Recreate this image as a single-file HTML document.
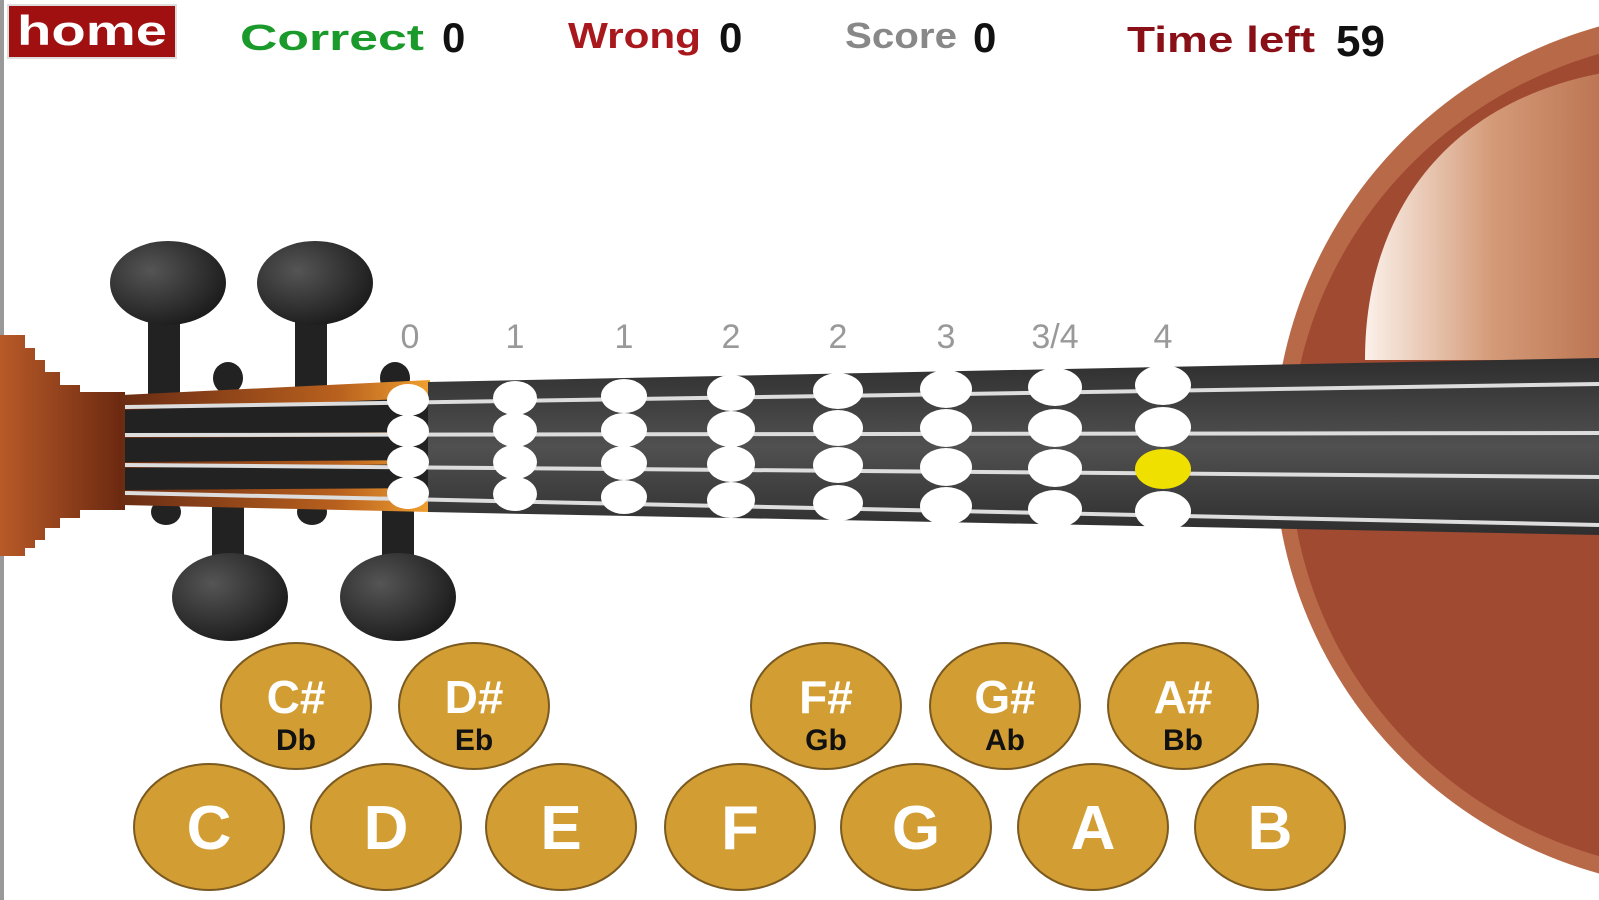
<!DOCTYPE html>
<html><head><meta charset="utf-8"><style>
html,body{margin:0;padding:0;background:#fff;width:1599px;height:900px;overflow:hidden}
svg{display:block}
text{font-family:"Liberation Sans",sans-serif;font-weight:bold}
</style></head><body>
<svg width="1599" height="900" viewBox="0 0 1599 900" xmlns="http://www.w3.org/2000/svg">
<defs>
<linearGradient id="hl" x1="0" y1="0" x2="1" y2="0"><stop offset="0" stop-color="#fbf1ea"/><stop offset="0.5" stop-color="#d49a78"/><stop offset="1" stop-color="#b86f4c"/></linearGradient>
<linearGradient id="box" x1="0" y1="0" x2="1" y2="0"><stop offset="0" stop-color="#6a2c14"/><stop offset="0.7" stop-color="#b8601e"/><stop offset="1" stop-color="#f0a030"/></linearGradient>
<linearGradient id="scroll" x1="0" y1="0" x2="1" y2="0"><stop offset="0" stop-color="#b85a28"/><stop offset="1" stop-color="#6a2810"/></linearGradient>
<radialGradient id="peg" cx="0.35" cy="0.35" r="0.7"><stop offset="0" stop-color="#555"/><stop offset="1" stop-color="#1c1c1c"/></radialGradient>
<linearGradient id="fb" x1="0" y1="0" x2="0" y2="1"><stop offset="0" stop-color="#2e2e2e"/><stop offset="0.5" stop-color="#505050"/><stop offset="1" stop-color="#2e2e2e"/></linearGradient>
</defs>
<rect x="0" y="0" width="4" height="900" fill="#999"/>
<!-- violin body -->
<ellipse cx="1720" cy="450" rx="446" ry="440" fill="#b86a48"/>
<ellipse cx="1720" cy="455" rx="430" ry="418" fill="#a04a32"/>
<path d="M1365,360 C1365,210 1450,95 1620,70 L1620,360 Z" fill="url(#hl)"/>
<!-- pegs top -->
<rect x="148" y="300" width="32" height="95" fill="#222"/>
<rect x="295" y="300" width="32" height="95" fill="#222"/>
<ellipse cx="168" cy="283" rx="58" ry="42" fill="url(#peg)"/>
<ellipse cx="315" cy="283" rx="58" ry="42" fill="url(#peg)"/>
<ellipse cx="228" cy="378" rx="15" ry="16" fill="#222"/>
<ellipse cx="395" cy="378" rx="15" ry="16" fill="#222"/>
<!-- pegs bottom -->
<rect x="212" y="500" width="32" height="90" fill="#222"/>
<rect x="382" y="500" width="32" height="90" fill="#222"/>
<ellipse cx="230" cy="597" rx="58" ry="44" fill="url(#peg)"/>
<ellipse cx="398" cy="597" rx="58" ry="44" fill="url(#peg)"/>
<ellipse cx="166" cy="512" rx="15" ry="13" fill="#222"/>
<ellipse cx="312" cy="512" rx="15" ry="13" fill="#222"/>
<!-- scroll -->
<path d="M0,335 L25,335 L25,348 L35,348 L35,360 L45,360 L45,372 L60,372 L60,385 L80,385 L80,392 L125,392 L125,510 L80,510 L80,518 L60,518 L60,528 L45,528 L45,540 L35,540 L35,548 L25,548 L25,556 L0,556 Z" fill="url(#scroll)"/>
<!-- pegbox -->
<path d="M122,395 L430,380 L430,512 L122,505 Z" fill="url(#box)"/>
<g fill="#222">
<path d="M125,410 L430,398 L430,432 L125,434 Z"/>
<path d="M125,438 L430,436 L430,460 L125,462 Z"/>
<path d="M125,468 L430,464 L430,488 L125,490 Z"/>
</g>
<!-- fingerboard -->
<path d="M428,382 L1599,358 L1599,535 L428,512 Z" fill="url(#fb)"/>
<g stroke="#ddd" stroke-width="4" fill="none">
<line x1="125" y1="407" x2="1599" y2="384"/>
<line x1="125" y1="435" x2="1599" y2="433"/>
<line x1="125" y1="465" x2="1599" y2="477"/>
<line x1="125" y1="493" x2="1599" y2="525"/>
</g>
<!-- fret labels -->
<g fill="#999" font-size="34" text-anchor="middle">
<text x="410" y="348" style="font-weight:normal">0</text><text x="515" y="348" style="font-weight:normal">1</text><text x="624" y="348" style="font-weight:normal">1</text><text x="731" y="348" style="font-weight:normal">2</text><text x="838" y="348" style="font-weight:normal">2</text><text x="946" y="348" style="font-weight:normal">3</text><text x="1055" y="348" style="font-weight:normal">3/4</text><text x="1163" y="348" style="font-weight:normal">4</text>
</g>
<g fill="#fff">
<ellipse cx="408" cy="400" rx="21" ry="16"/><ellipse cx="408" cy="431" rx="21" ry="16"/><ellipse cx="408" cy="462" rx="21" ry="16"/><ellipse cx="408" cy="493" rx="21" ry="16"/>
<ellipse cx="515" cy="398" rx="22" ry="17"/><ellipse cx="515" cy="430" rx="22" ry="17"/><ellipse cx="515" cy="462" rx="22" ry="17"/><ellipse cx="515" cy="494" rx="22" ry="17"/>
<ellipse cx="624" cy="396" rx="23" ry="17"/><ellipse cx="624" cy="430" rx="23" ry="17"/><ellipse cx="624" cy="463" rx="23" ry="17"/><ellipse cx="624" cy="497" rx="23" ry="17"/>
<ellipse cx="731" cy="393" rx="24" ry="18"/><ellipse cx="731" cy="429" rx="24" ry="18"/><ellipse cx="731" cy="464" rx="24" ry="18"/><ellipse cx="731" cy="500" rx="24" ry="18"/>
<ellipse cx="838" cy="391" rx="25" ry="18"/><ellipse cx="838" cy="428" rx="25" ry="18"/><ellipse cx="838" cy="465" rx="25" ry="18"/><ellipse cx="838" cy="503" rx="25" ry="18"/>
<ellipse cx="946" cy="389" rx="26" ry="19"/><ellipse cx="946" cy="428" rx="26" ry="19"/><ellipse cx="946" cy="467" rx="26" ry="19"/><ellipse cx="946" cy="506" rx="26" ry="19"/>
<ellipse cx="1055" cy="387" rx="27" ry="19"/><ellipse cx="1055" cy="428" rx="27" ry="19"/><ellipse cx="1055" cy="468" rx="27" ry="19"/><ellipse cx="1055" cy="509" rx="27" ry="19"/>
<ellipse cx="1163" cy="385" rx="28" ry="20"/><ellipse cx="1163" cy="427" rx="28" ry="20"/><ellipse cx="1163" cy="511" rx="28" ry="20"/>
</g>
<ellipse cx="1163" cy="469" rx="28" ry="20" fill="#f0e000"/>
<!-- header -->
<rect x="8" y="5" width="168" height="53" fill="#a01010" stroke="#ddd" stroke-width="2"/>
<text x="92" y="45" fill="#fff" font-size="42" text-anchor="middle" textLength="150" lengthAdjust="spacingAndGlyphs">home</text>
<text x="240" y="50" fill="#1a9a2a" font-size="36" textLength="184" lengthAdjust="spacingAndGlyphs">Correct</text>
<text x="442" y="52" fill="#111" font-size="42">0</text>
<text x="568" y="48" fill="#a8181c" font-size="36" textLength="133" lengthAdjust="spacingAndGlyphs">Wrong</text>
<text x="719" y="52" fill="#111" font-size="42">0</text>
<text x="845" y="48" fill="#888" font-size="36" textLength="112" lengthAdjust="spacingAndGlyphs">Score</text>
<text x="973" y="52" fill="#111" font-size="42">0</text>
<text x="1127" y="52" fill="#8a1018" font-size="36" textLength="188" lengthAdjust="spacingAndGlyphs">Time left</text>
<text x="1336" y="56" fill="#111" font-size="44">59</text>
<!-- buttons -->
<g fill="#d29d33" stroke="#7a5a20" stroke-width="2">
<ellipse cx="296" cy="706" rx="75" ry="63"/><ellipse cx="474" cy="706" rx="75" ry="63"/>
<ellipse cx="826" cy="706" rx="75" ry="63"/><ellipse cx="1005" cy="706" rx="75" ry="63"/><ellipse cx="1183" cy="706" rx="75" ry="63"/>
<ellipse cx="209" cy="827" rx="75" ry="63"/><ellipse cx="386" cy="827" rx="75" ry="63"/><ellipse cx="561" cy="827" rx="75" ry="63"/><ellipse cx="740" cy="827" rx="75" ry="63"/><ellipse cx="916" cy="827" rx="75" ry="63"/><ellipse cx="1093" cy="827" rx="75" ry="63"/><ellipse cx="1270" cy="827" rx="75" ry="63"/>
</g>
<g fill="#fff" font-size="46" text-anchor="middle">
<text x="296" y="713">C#</text><text x="474" y="713">D#</text><text x="826" y="713">F#</text><text x="1005" y="713">G#</text><text x="1183" y="713">A#</text>
</g>
<g fill="#111" font-size="30" text-anchor="middle">
<text x="296" y="750">Db</text><text x="474" y="750">Eb</text><text x="826" y="750">Gb</text><text x="1005" y="750">Ab</text><text x="1183" y="750">Bb</text>
</g>
<g fill="#fff" font-size="62" text-anchor="middle">
<text x="209" y="849">C</text><text x="386" y="849">D</text><text x="561" y="849">E</text><text x="740" y="849">F</text><text x="916" y="849">G</text><text x="1093" y="849">A</text><text x="1270" y="849">B</text>
</g>
</svg>
</body></html>
